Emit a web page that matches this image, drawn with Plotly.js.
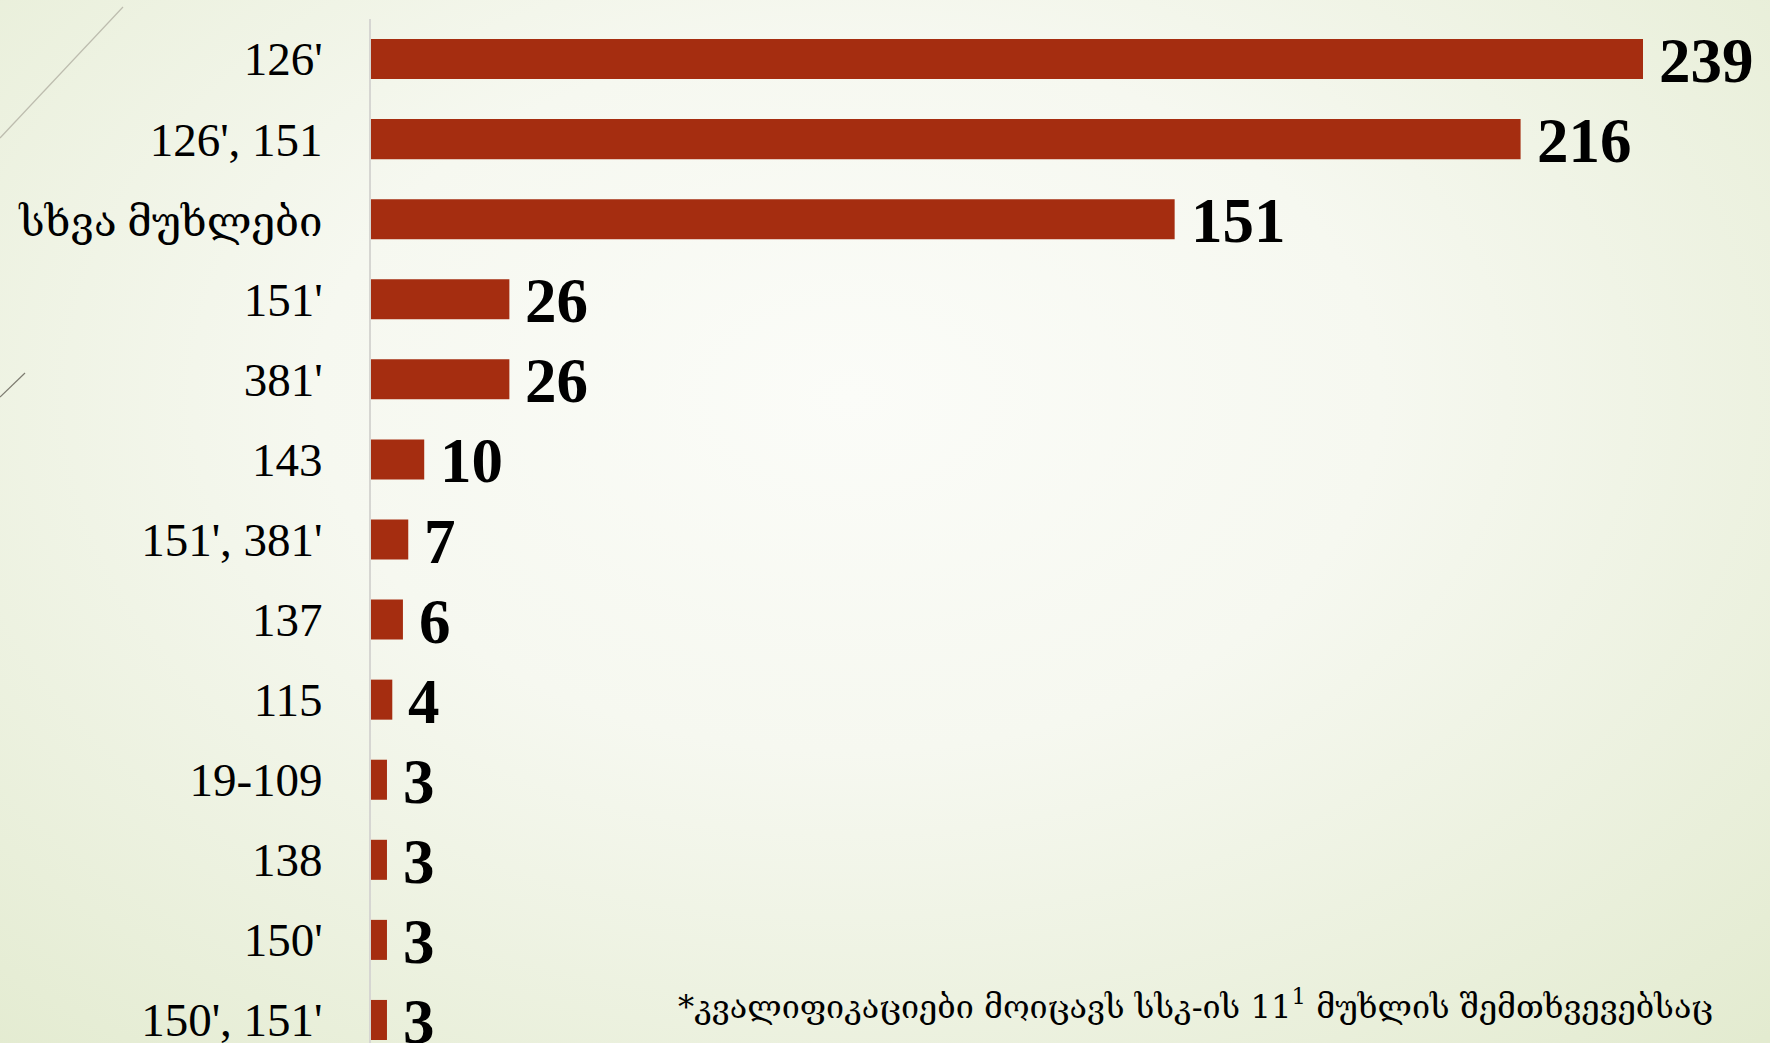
<!DOCTYPE html>
<html>
<head>
<meta charset="utf-8">
<script src="https://cdn.plot.ly/plotly-3.0.1.min.js"></script>
<style>
  html, body { margin:0; padding:0; width:1770px; height:1043px; overflow:hidden; }
  body { background: radial-gradient(ellipse 75% 85% at 48% 38%, #fbfcf8 0%, #f6f8f0 40%, #e3ebd0 100%); position:relative; }
  #deco { position:absolute; left:0; top:0; width:1770px; height:1043px; pointer-events:none; }
  #chart { position:absolute; left:0; top:0; width:1770px; height:1060px; }
</style>
</head>
<body>
<svg id="deco" width="1770" height="1043">
  <line x1="0" y1="138" x2="123" y2="7" stroke="#bdbcae" stroke-width="1.2"/>
  <line x1="0" y1="397" x2="25" y2="373" stroke="#7d7b70" stroke-width="1.2"/>
</svg>
<div id="chart"></div>
<script>
const categories = ["126'", "126', 151", "სხვა მუხლები", "151'", "381'", "143", "151', 381'", "137", "115", "19-109", "138", "150'", "150', 151'"];
const values = [239, 216, 151, 26, 26, 10, 7, 6, 4, 3, 3, 3, 3];
const footnote = "*კვალიფიკაციები მოიცავს სსკ-ის 11<sup>1</sup> მუხლის შემთხვევებსაც";

const barColor = "#a52d10";
const idx = categories.map((c, i) => i);

// Georgian script is set a little smaller so it fits like the reference
const tickText = categories.map(c => /[\u10A0-\u10FF]/.test(c)
  ? '<span style="font-size:42px">' + c + '</span>' : c);

const trace = {
  type: "bar",
  orientation: "h",
  x: values,
  y: idx,
  marker: { color: barColor, line: { width: 0 } },
  hoverinfo: "skip"
};

const annotations = values.map((v, i) => ({
  x: v, y: i, xref: "x", yref: "y",
  text: String(v), showarrow: false, xanchor: "left", yanchor: "middle",
  xshift: 14, yshift: -2,
  font: { family: "Liberation Serif, DejaVu Serif, serif", size: 63, color: "#000000", weight: "bold" }
}));
annotations.push({
  xref: "paper", yref: "paper", x: 1.0, y: 0.053, xanchor: "right", yanchor: "middle",
  xshift: 72,
  text: footnote, showarrow: false,
  font: { family: "DejaVu Serif, DejaVu Sans, serif", size: 32.3, color: "#000000" }
});

const layout = {
  width: 1770, height: 1060,
  margin: { l: 371, r: 127, t: 19, b: 0 },
  paper_bgcolor: "rgba(0,0,0,0)",
  plot_bgcolor: "rgba(0,0,0,0)",
  bargap: 0.5,
  showlegend: false,
  xaxis: { range: [0, 239], visible: false, fixedrange: true },
  yaxis: {
    type: "linear",
    range: [12.5, -0.5],
    tickmode: "array",
    tickvals: idx,
    ticktext: tickText,
    showline: true, linecolor: "#d6d6d2", linewidth: 2,
    showgrid: false, zeroline: false, ticks: "",
    ticklabelstandoff: 37,
    tickfont: { family: "Liberation Serif, DejaVu Serif, serif", size: 47, color: "#000000" },
    fixedrange: true
  },
  annotations: annotations
};

Plotly.newPlot("chart", [trace], layout, { displayModeBar: false, staticPlot: true });
</script>
</body>
</html>
